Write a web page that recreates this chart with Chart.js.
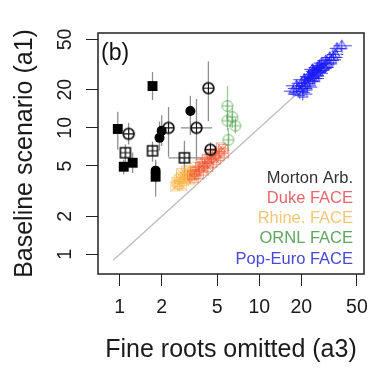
<!DOCTYPE html>
<html><head><meta charset="utf-8">
<style>html,body{margin:0;padding:0;background:#fff}canvas{display:block}</style>
<script src="https://cdn.jsdelivr.net/npm/chart.js@4.4.1/dist/chart.umd.min.js"></script>
</head><body>
<canvas id="c" width="386" height="392"></canvas>
<script>
// ---------- data ----------
const tickValues = [1, 2, 5, 10, 20, 50];
const diagX = [0.9, 40];

// Morton Arb. — filled squares
const mSqX   = [1.72, 0.97, 1.07, 1.24, 1.81];
const mSqY   = [21.4, 9.8, 4.93, 5.3, 4.11];
const mSqYLo = [16.6, 6.7, 4.3, 4.4, 2.86];
const mSqYHi = [27.6, 13.4, 5.6, 6.4, 5.4];
// Morton Arb. — filled circles
const mCiX   = [2.0, 1.93, 1.81, 3.21];
const mCiY   = [9.47, 8.34, 4.59, 13.6];
const mCiYLo = [7.2, 6.6, 3.6, 8.8];
const mCiYHi = [12.6, 11.2, 5.6, 17.9];
// Morton Arb. — open circle with plus
const mOcX   = [1.16, 2.24, 3.55, 4.32, 4.47];
const mOcY   = [8.97, 10.0, 10.0, 20.6, 6.71];
const mOcYLo = [7.4, 5.9, 5.6, 11.3, 5.9];
const mOcYHi = [11.0, 14.6, 16.9, 33.5, 7.7];
const mOcXLo = [1.06, 2.05, 2.75, null, 4.1];
const mOcXHi = [1.28, 2.45, 4.6, null, 4.9];
// Morton Arb. — open square with plus
const mOsX   = [1.10, 1.72, 2.91];
const mOsY   = [6.36, 6.59, 5.8];
const mOsYLo = [5.4, 5.4, 3.9];
const mOsYHi = [7.4, 7.8, 7.9];
const mOsXLo = [null, null, 2.24];
const mOsXHi = [null, null, 3.91];

// Rhine. FACE
const rhX = [2.55, 2.65, 2.75, 2.85, 2.95, 3.05, 3.15, 3.3, 3.45, 2.7, 2.9, 3.1, 3.25, 2.6, 2.5, 2.65, 2.8, 3.0, 3.2, 3.35, 2.75, 3.0];
const rhY = [3.75, 3.95, 4.1, 4.0, 4.35, 4.25, 4.6, 4.5, 4.9, 3.7, 3.8, 4.1, 4.3, 3.55, 3.45, 3.6, 3.5, 3.95, 3.9, 4.2, 4.4, 4.6];
// Duke FACE
const dkX = [3.3, 3.45, 3.6, 3.75, 3.9, 4.05, 4.2, 4.4, 4.6, 4.8, 5.0, 5.2, 5.5, 3.5, 3.95, 4.35, 4.75, 3.4, 3.7, 4.0, 4.3, 4.6, 4.9, 5.2, 5.6, 3.8, 4.2, 4.5, 5.3];
const dkY = [4.2, 4.5, 4.6, 4.9, 5.0, 5.3, 5.4, 5.7, 5.9, 6.1, 6.3, 6.5, 6.8, 4.3, 4.8, 5.2, 5.8, 4.0, 4.3, 4.6, 4.9, 5.3, 5.6, 6.0, 6.3, 5.2, 5.7, 6.3, 7.0];
// ORNL FACE
const orX   = [5.91, 6.41, 5.91, 6.74, 6.01];
const orY   = [14.9, 12.2, 11.4, 10.4, 8.05];
const orYLo = [11.5, 10.0, 9.5, 9.0, 6.5];
const orYHi = [21.5, 14.5, 13.5, 12.0, 10.0];
// Pop-Euro FACE
const peX   = [17.5, 18.5, 19.5, 20, 20.5, 21, 21.5, 22, 22.5, 23, 23.5, 24, 24.5, 25, 25.5, 26, 26.5, 27, 27.5, 28, 29, 30, 31, 32, 33, 35, 36, 39, 20.5, 24, 19, 21, 23, 25, 26, 28, 30, 34];
const peY   = [19.5, 21.5, 19, 22.5, 20.5, 24, 22.5, 21, 25.5, 23.5, 26.5, 24.5, 28, 26, 27.5, 30, 27, 31, 29, 32.5, 30, 34, 32, 36, 34.5, 38, 42.5, 44.5, 18.5, 29, 20.5, 21.5, 25, 24.5, 28.5, 29.5, 31.5, 36];
const peXLo = [15, 15.5, 16.5, 17, 18, 17.5, 19, 19, 19.5, 20, 20.5, 21, 21.5, 22, 22, 22.5, 23, 23.5, 24, 24.5, 25, 26, 27, 28, 29, 30.5, 32, 34, 16.5, 21, 16, 18, 20, 21.5, 22.5, 24, 26, 29.5];
const peXHi = [20.5, 22, 23, 23.5, 24, 25, 25, 26, 26.5, 27, 27.5, 28, 28.5, 29, 30, 30.5, 31, 31.5, 32, 32.5, 34, 35, 36, 37, 38.5, 40, 42, 46, 24, 27.5, 22.5, 25.5, 27, 29, 30, 33, 34.5, 39.5];
const peYLo = [17.5, 19, 17, 20, 18.5, 21.5, 20, 19, 23, 21, 23.5, 22, 25, 23.5, 25, 27, 24.5, 28, 26, 29.5, 27, 31, 29, 32.5, 31.5, 34.5, 38.5, 40.5, 16.5, 26, 18, 19.5, 22.5, 22, 25.5, 26.5, 28.5, 32];
const peYHi = [22, 24, 21.5, 25, 23, 27, 25.5, 23.5, 28.5, 26.5, 29.5, 27.5, 31, 29, 30.5, 33, 30, 34.5, 32, 36, 33.5, 37.5, 35.5, 40, 38, 42, 47, 49, 20.5, 32, 23, 24, 28, 27.5, 31.5, 33, 35, 40];

const legendNames  = ['Morton Arb.', 'Duke FACE', 'Rhine. FACE', 'ORNL FACE', 'Pop-Euro FACE'];
const legendColors = ['#333333', '#e5676c', '#f0c678', '#62a562', '#4848d6'];

// ---------- helpers ----------
const FONT = "'Liberation Sans', Arial, Helvetica, sans-serif";
const pts = (xs, ys) => xs.map((v, i) => ({x: v, y: ys[i]}));

function sym(kind, color, half, lw, lw2) {
  const s = Math.ceil(half * 2 + lw + 4);
  const c = document.createElement('canvas');
  c.width = s; c.height = s;
  const g = c.getContext('2d');
  const m = s / 2;
  g.strokeStyle = color; g.lineWidth = lw;
  g.beginPath();
  if (kind === 'circlePlus') {
    g.arc(m, m, half, 0, Math.PI * 2); g.stroke();
    g.lineWidth = lw2; g.beginPath();
    g.moveTo(m - half, m); g.lineTo(m + half, m); g.moveTo(m, m - half); g.lineTo(m, m + half); g.stroke();
  } else if (kind === 'squarePlus') {
    g.rect(m - half, m - half, half * 2, half * 2); g.stroke();
    g.lineWidth = lw2; g.beginPath();
    g.moveTo(m - half, m); g.lineTo(m + half, m); g.moveTo(m, m - half); g.lineTo(m, m + half); g.stroke();
  } else if (kind === 'squareX') {
    g.rect(m - half, m - half, half * 2, half * 2); g.stroke();
    g.lineWidth = lw2; g.beginPath();
    g.moveTo(m - half, m - half); g.lineTo(m + half, m + half); g.moveTo(m + half, m - half); g.lineTo(m - half, m + half); g.stroke();
  } else if (kind === 'triangle') {
    g.moveTo(m, m - half * 1.15); g.lineTo(m + half, m + half * 0.6); g.lineTo(m - half, m + half * 0.6); g.closePath(); g.stroke();
  }
  return c;
}

const errorBars = {
  id: 'errorBars',
  beforeDatasetsDraw(chart) {
    const {ctx, scales: {x, y}} = chart;
    ctx.save();
    chart.data.datasets.forEach(ds => {
      const e = ds.err; if (!e) return;
      ctx.strokeStyle = e.color; ctx.lineWidth = e.width;
      ds.data.forEach((p, i) => {
        const px = x.getPixelForValue(p.x), py = y.getPixelForValue(p.y);
        ctx.beginPath();
        if (e.ylo && e.ylo[i] != null) { ctx.moveTo(px, y.getPixelForValue(e.ylo[i])); ctx.lineTo(px, y.getPixelForValue(e.yhi[i])); }
        if (e.xlo && e.xlo[i] != null) { ctx.moveTo(x.getPixelForValue(e.xlo[i]), py); ctx.lineTo(x.getPixelForValue(e.xhi[i]), py); }
        ctx.stroke();
      });
    });
    ctx.restore();
  }
};

const decor = {
  id: 'decor',
  afterDraw(chart) {
    const {ctx, chartArea: a} = chart;
    ctx.save();
    ctx.strokeStyle = '#222'; ctx.lineWidth = 1.5;
    ctx.strokeRect(a.left, a.top, a.right - a.left, a.bottom - a.top);
    ctx.fillStyle = '#111'; ctx.font = '23px ' + FONT; ctx.textAlign = 'left'; ctx.textBaseline = 'middle';
    ctx.fillText('(b)', a.left + 3, a.top + 21);
    ctx.font = '16.5px ' + FONT; ctx.textAlign = 'right';
    legendNames.forEach((n, i) => {
      ctx.fillStyle = legendColors[i];
      ctx.fillText(n, a.right - 11, a.bottom - 96 + i * 20.3);
    });
    ctx.restore();
  }
};

const gray = '#8f8f8f';
const datasets = [
  {data: pts(diagX, diagX), showLine: true, borderColor: '#bcbcbc', borderWidth: 1.3, pointRadius: 0, order: 20},
  {data: pts(rhX, rhY), pointStyle: sym('squareX', 'rgba(248,178,70,0.55)', 4.5, 1, 1), pointRadius: 5, order: 15},
  {data: pts(dkX, dkY), pointStyle: sym('squareX', 'rgba(240,85,50,0.5)', 4.5, 1, 1), pointRadius: 5, order: 14},
  {data: pts(mSqX, mSqY), pointStyle: 'rect', pointRadius: 7, backgroundColor: '#000', borderColor: '#000', borderWidth: 0, order: 10,
   err: {ylo: mSqYLo, yhi: mSqYHi, color: gray, width: 1.3}},
  {data: pts(mCiX, mCiY), pointStyle: 'circle', pointRadius: 5, backgroundColor: '#000', borderColor: '#000', borderWidth: 0, order: 9,
   err: {ylo: mCiYLo, yhi: mCiYHi, color: gray, width: 1.3}},
  {data: pts(mOcX, mOcY), pointStyle: sym('circlePlus', '#111', 5.4, 1.7, 1), pointRadius: 5, order: 8,
   err: {ylo: mOcYLo, yhi: mOcYHi, xlo: mOcXLo, xhi: mOcXHi, color: gray, width: 1.3}},
  {data: pts(mOsX, mOsY), pointStyle: sym('squarePlus', '#111', 5, 1.6, 1), pointRadius: 5, order: 7,
   err: {ylo: mOsYLo, yhi: mOsYHi, xlo: mOsXLo, xhi: mOsXHi, color: gray, width: 1.3}},
  {data: pts(orX, orY), pointStyle: sym('circlePlus', 'rgba(80,165,80,0.75)', 5.4, 1, 1), pointRadius: 5, order: 5,
   err: {ylo: orYLo, yhi: orYHi, color: 'rgba(90,170,90,0.7)', width: 1}},
  {data: pts(peX, peY), pointStyle: sym('triangle', 'rgba(30,30,255,0.85)', 5, 1, 1), pointRadius: 5, order: 4,
   err: {ylo: peYLo, yhi: peYHi, xlo: peXLo, xhi: peXHi, color: 'rgba(20,20,255,0.8)', width: 1}}
];

const axisCommon = (title) => ({
  type: 'logarithmic', min: 0.708, max: 56.2,
  afterBuildTicks: s => { s.ticks = tickValues.map(v => ({value: v})); },
  grid: {display: true, drawOnChartArea: false, drawTicks: true, tickLength: 12, color: '#222', lineWidth: 1},
  border: {display: false},
  title: {display: true, text: title, color: '#1a1a1a', font: {family: FONT, size: 25}},
});

const xAxis = axisCommon('Fine roots omitted (a3)');
xAxis.position = 'bottom';
xAxis.afterFit = s => { s.height = 118; };
xAxis.ticks = {font: {family: FONT, size: 19.5}, color: '#1a1a1a', padding: 10, autoSkip: false, maxRotation: 0, callback: v => String(v)};
xAxis.title.padding = {top: 0, bottom: 27};

const yAxis = axisCommon('Baseline scenario (a1)');
yAxis.position = 'left';
yAxis.afterFit = s => { s.width = 98; };
yAxis.ticks = {font: {family: FONT, size: 19.5}, color: '#1a1a1a', padding: 10, autoSkip: false, minRotation: 90, maxRotation: 90, crossAlign: 'center', callback: v => String(v)};
yAxis.title.padding = {top: 10, bottom: 0};

new Chart(document.getElementById('c'), {
  type: 'scatter',
  data: {datasets},
  options: {
    responsive: false, animation: false, devicePixelRatio: 1,
    layout: {padding: {top: 33, right: 22, left: 0, bottom: 0}},
    plugins: {legend: {display: false}, tooltip: {enabled: false}},
    scales: {x: xAxis, y: yAxis}
  },
  plugins: [errorBars, decor]
});
</script>
</body></html>
